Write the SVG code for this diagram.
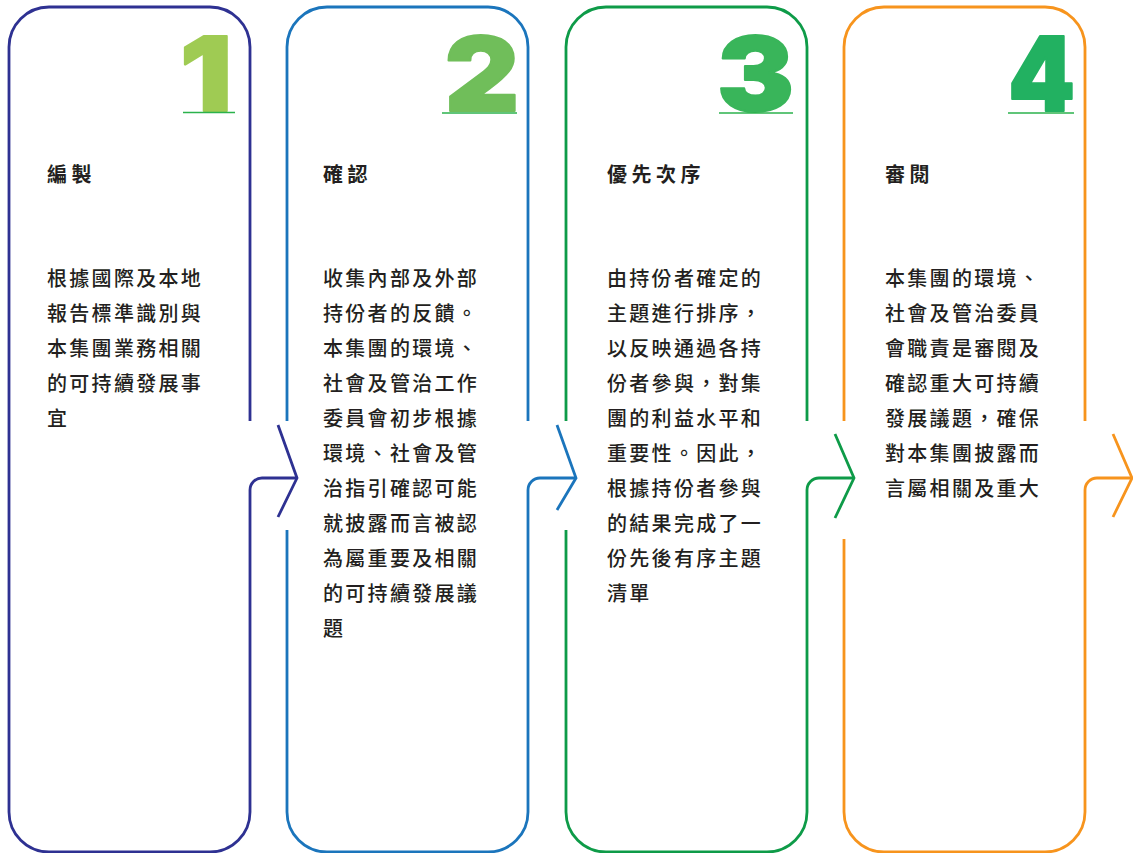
<svg xmlns="http://www.w3.org/2000/svg" width="1133" height="853" viewBox="0 0 1133 853">
  <defs>
    <style>
      .frame { fill: none; stroke-width: 2.8; stroke-linecap: butt; stroke-linejoin: miter; }
      .c1 { stroke: #2e3192; }
      .c2 { stroke: #1b75bc; }
      .c3 { stroke: #0e9b48; }
      .c4 { stroke: #f7941d; }
      .num { font-family: Inter, "Noto Sans", sans-serif; font-weight: 900; font-size: 100px; stroke-width: 2; stroke-linejoin: round; }
      .uline { stroke: #2bb24c; stroke-width: 1.6; }
      .title { font-family: "Noto Sans CJK TC", "Noto Sans CJK SC", sans-serif; font-weight: 700; font-size: 20px; letter-spacing: 4.5px; fill: #231f20; }
      .body { font-family: "Noto Sans CJK TC", "Noto Sans CJK SC", sans-serif; font-weight: 500; font-size: 20px; letter-spacing: 2.3px; fill: #231f20; }
    </style>
  </defs>
  <rect width="1133" height="853" fill="#ffffff"/>

  <g id="connectors">
    <path class="frame c1" d="M250,812 V490 A12,12 0 0 1 262,478 H297"/>
    <path class="frame c1" d="M278,425 L297,478 L278,517"/>
    <path class="frame c2" d="M528,812 V490 A12,12 0 0 1 540,478 H576"/>
    <path class="frame c2" d="M557,425 L576,478 L557,510"/>
    <path class="frame c3" d="M807,812 V490 A12,12 0 0 1 819,478 H854"/>
    <path class="frame c3" d="M835,434 L854,478 L835,518"/>
    <path class="frame c4" d="M1085,812 V490 A12,12 0 0 1 1097,478 H1132"/>
    <path class="frame c4" d="M1113,434 L1132,478 L1113,517"/>
  </g>

  <g id="node1">
    <path class="frame c1" d="M250,421 V47 A40,40 0 0 0 210,7 H49 A40,40 0 0 0 9,47 V812 A40,40 0 0 0 49,852 H210 A40,40 0 0 0 250,812"/>
    <text class="num" fill="#9fcb53" stroke="#9fcb53" transform="translate(232,111) scale(1.15,1.03)" text-anchor="end">1</text>
    <line class="uline" x1="183" y1="112.5" x2="235" y2="112.5"/>
    <text class="title" x="47" y="182">編製</text>
    <text class="body">
      <tspan x="47" y="286">根據國際及本地</tspan>
      <tspan x="47" y="321">報告標準識別與</tspan>
      <tspan x="47" y="356">本集團業務相關</tspan>
      <tspan x="47" y="391">的可持續發展事</tspan>
      <tspan x="47" y="426">宜</tspan>
    </text>
  </g>

  <g id="node2">
    <path class="frame c2" d="M528,421 V47 A40,40 0 0 0 488,7 H327 A40,40 0 0 0 287,47 V421"/>
    <path class="frame c2" d="M287,530 V812 A40,40 0 0 0 327,852 H488 A40,40 0 0 0 528,812"/>
    <text class="num" fill="#70be5a" stroke="#70be5a" transform="translate(519,111) scale(1.15,1.03)" text-anchor="end">2</text>
    <line class="uline" x1="442" y1="113" x2="517" y2="113"/>
    <text class="title" x="323" y="182">確認</text>
    <text class="body">
      <tspan x="323" y="286">收集內部及外部</tspan>
      <tspan x="323" y="321">持份者的反饋。</tspan>
      <tspan x="323" y="356">本集團的環境、</tspan>
      <tspan x="323" y="391">社會及管治工作</tspan>
      <tspan x="323" y="426">委員會初步根據</tspan>
      <tspan x="323" y="461">環境、社會及管</tspan>
      <tspan x="323" y="496">治指引確認可能</tspan>
      <tspan x="323" y="531">就披露而言被認</tspan>
      <tspan x="323" y="566">為屬重要及相關</tspan>
      <tspan x="323" y="601">的可持續發展議</tspan>
      <tspan x="323" y="636">題</tspan>
    </text>
  </g>

  <g id="node3">
    <path class="frame c3" d="M807,421 V47 A40,40 0 0 0 767,7 H606 A40,40 0 0 0 566,47 V421"/>
    <path class="frame c3" d="M566,530 V812 A40,40 0 0 0 606,852 H767 A40,40 0 0 0 807,812"/>
    <text class="num" fill="#39b55a" stroke="#39b55a" transform="translate(794,111) scale(1.15,1.03)" text-anchor="end">3</text>
    <line class="uline" x1="719" y1="113" x2="793" y2="113"/>
    <text class="title" x="607" y="182">優先次序</text>
    <text class="body">
      <tspan x="607" y="286">由持份者確定的</tspan>
      <tspan x="607" y="321">主題進行排序，</tspan>
      <tspan x="607" y="356">以反映通過各持</tspan>
      <tspan x="607" y="391">份者參與，對集</tspan>
      <tspan x="607" y="426">團的利益水平和</tspan>
      <tspan x="607" y="461">重要性。因此，</tspan>
      <tspan x="607" y="496">根據持份者參與</tspan>
      <tspan x="607" y="531">的結果完成了一</tspan>
      <tspan x="607" y="566">份先後有序主題</tspan>
      <tspan x="607" y="601">清單</tspan>
    </text>
  </g>

  <g id="node4">
    <path class="frame c4" d="M1085,421 V47 A40,40 0 0 0 1045,7 H884 A40,40 0 0 0 844,47 V421"/>
    <path class="frame c4" d="M844,539 V812 A40,40 0 0 0 884,852 H1045 A40,40 0 0 0 1085,812"/>
    <text class="num" fill="#22b161" stroke="#22b161" transform="translate(1075,111) scale(0.95,1.03)" text-anchor="end">4</text>
    <line class="uline" x1="1008" y1="113" x2="1074" y2="113"/>
    <text class="title" x="885" y="182">審閱</text>
    <text class="body">
      <tspan x="885" y="286">本集團的環境、</tspan>
      <tspan x="885" y="321">社會及管治委員</tspan>
      <tspan x="885" y="356">會職責是審閱及</tspan>
      <tspan x="885" y="391">確認重大可持續</tspan>
      <tspan x="885" y="426">發展議題，確保</tspan>
      <tspan x="885" y="461">對本集團披露而</tspan>
      <tspan x="885" y="496">言屬相關及重大</tspan>
    </text>
  </g>
</svg>
